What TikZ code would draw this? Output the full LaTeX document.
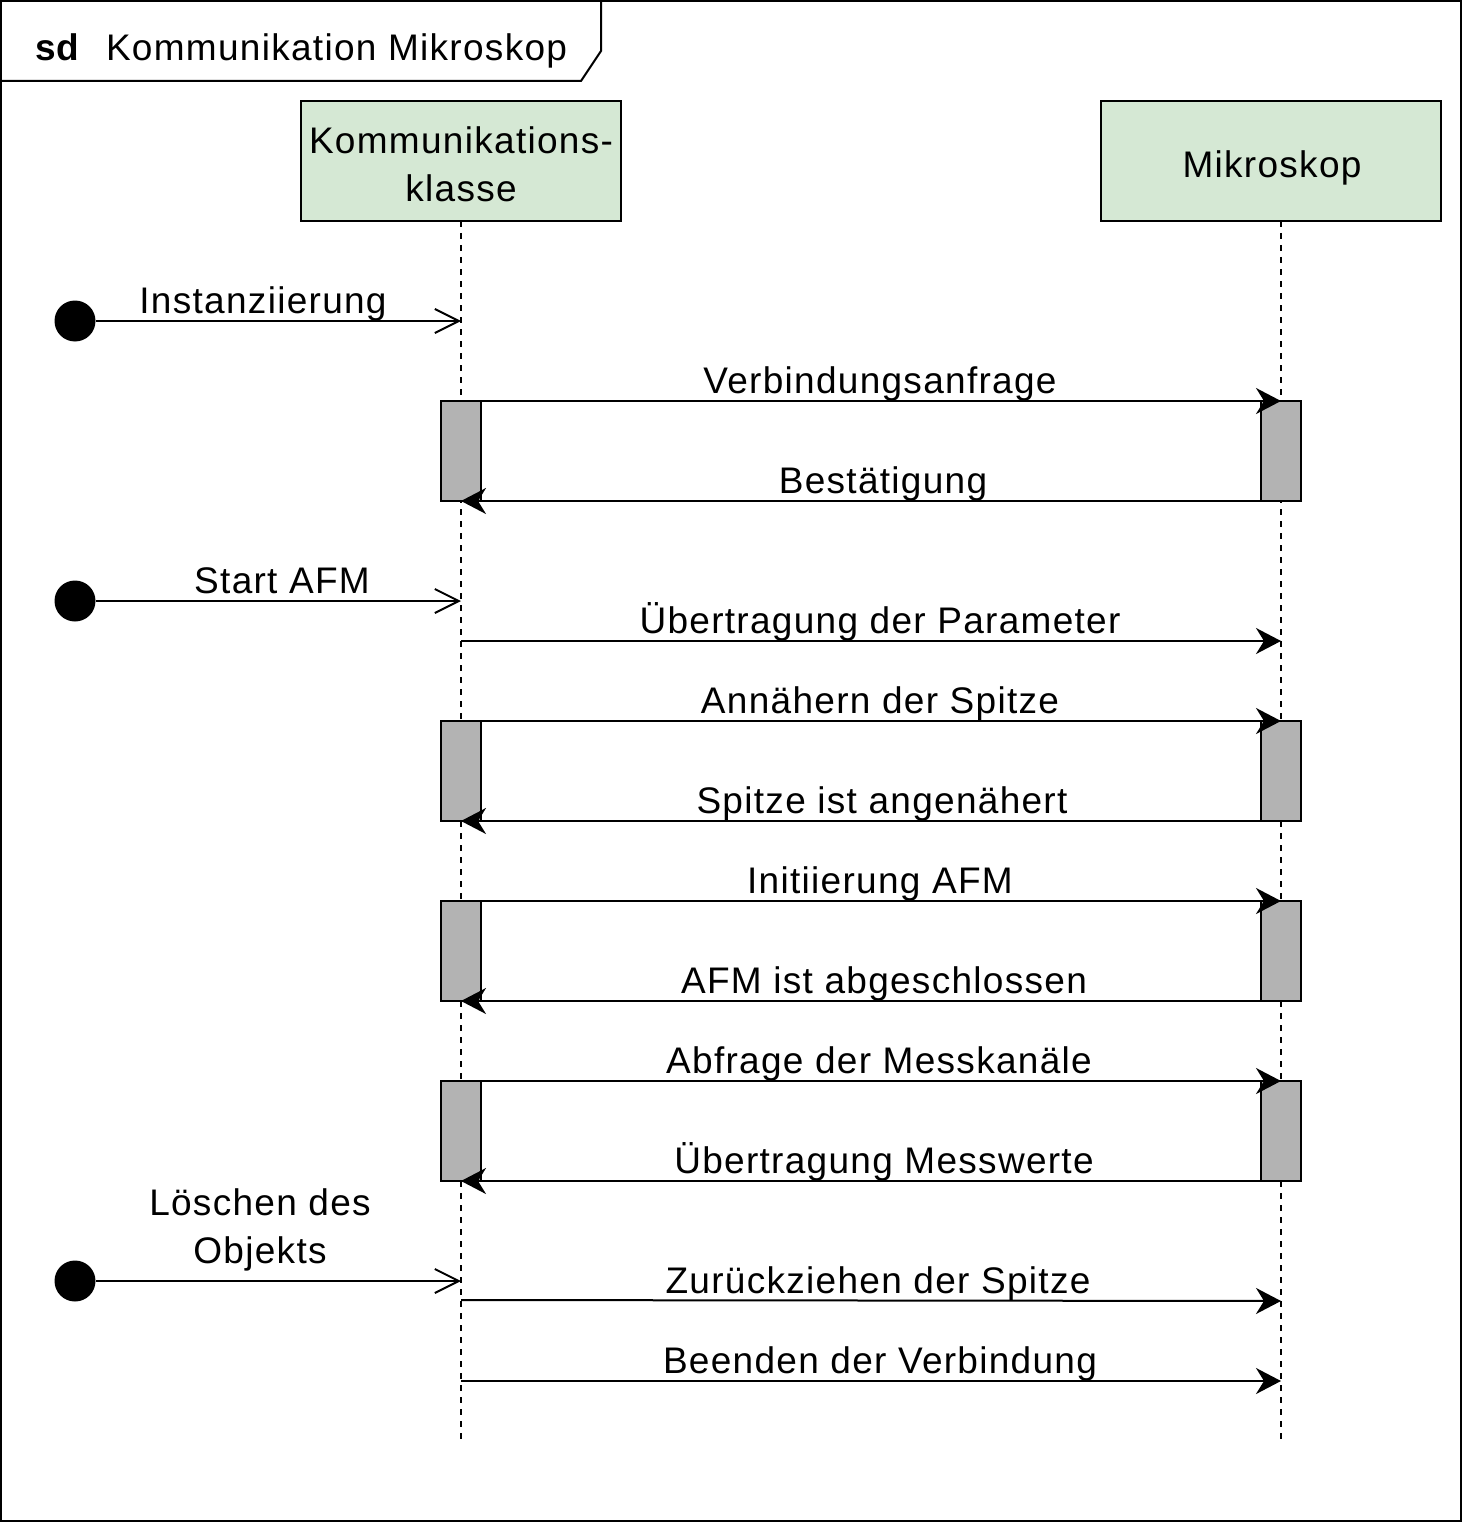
\documentclass[tikz,border=0pt]{standalone}
\usepackage{fontspec}
\setmainfont[LetterSpace=3.5]{Liberation Sans}
\usetikzlibrary{arrows.meta}
\definecolor{hdrgreen}{HTML}{D5E8D4}
\definecolor{actgray}{HTML}{B3B3B3}
\begin{document}
\begin{tikzpicture}[x=1pt,y=-1pt,
  font=\fontsize{37}{48}\selectfont,
  every node/.style={inner sep=0pt, outer sep=0pt},
  ln/.style={line width=2pt, line cap=butt},
  hdrbox/.style={draw, line width=2pt, fill=hdrgreen, minimum width=320pt, minimum height=120pt},
  hdrbox2/.style={hdrbox, minimum width=340pt},
  actbox/.style={draw, line width=2pt, fill=actgray, minimum width=40pt, minimum height=100pt},
  lifeline/.style={line width=2pt, dash pattern=on 6pt off 6pt},
  msg/.style={ln, -{Stealth[length=25pt, width=26pt, inset=8pt]}},
  found/.style={ln, -{Straight Barb[length=24pt, width=24pt, line width=2pt]}},
  startdot/.style={circle, fill=black, minimum size=41pt},
  lbl/.style={anchor=base}
]
\useasboundingbox (0,0) rectangle (1462,1522);
% frame
\draw[ln] (1,1) rectangle (1461,1521);
\draw[ln] (1,1) -- (601,1) -- (601,51) -- (581,81) -- (1,81);
\node[anchor=base west] (sd) at (35,61) {\textbf{sd}};
\node[anchor=base west] (ttl) at (106,61) {Kommunikation Mikroskop};

% lifeline headers
\node[hdrbox] (kk) at (461,161) {};
\node[lbl] (kkt1) at (461,154) {Kommunikations-};
\node[lbl] (kkt2) at (461,202) {klasse};
\node[hdrbox2] (mk) at (1271,161) {};
\node[lbl] (mkt) at (1272,178) {Mikroskop};

\coordinate (kkend) at (461,1441);
\coordinate (mktop) at (1281,221);
\coordinate (mkend) at (1281,1441);
\draw[lifeline] (kk.south) -- (kkend);
\draw[lifeline] (mktop) -- (mkend);

% activation boxes
\node[actbox] (a1l) at (461,451) {};
\node[actbox] (a1r) at (1281,451) {};
\node[actbox] (a2l) at (461,771) {};
\node[actbox] (a2r) at (1281,771) {};
\node[actbox] (a3l) at (461,951) {};
\node[actbox] (a3r) at (1281,951) {};
\node[actbox] (a4l) at (461,1131) {};
\node[actbox] (a4r) at (1281,1131) {};

% found messages
\node[startdot] (s1) at (75,321) {};
\node[startdot] (s2) at (75,601) {};
\node[startdot] (s3) at (75,1281) {};
\coordinate (f1) at (461,321);
\coordinate (f2) at (461,601);
\coordinate (f3) at (461,1281);
\draw[found] (s1) -- (f1);
\draw[found] (s2) -- (f2);
\draw[found] (s3) -- (f3);
\node[lbl] (l1) at (263,313) {Instanziierung};
\node[lbl] (l2) at (282,593) {Start AFM};
\node[lbl] (l3a) at (260,1215) {Löschen des};
\node[lbl] (l3b) at (260,1263) {Objekts};

% messages
\draw[msg] (a1l.north east) -- (a1r.north);
\node[lbl] (m1) at (880,393) {Verbindungsanfrage};
\draw[msg] (a1r.south west) -- (a1l.south);
\node[lbl] (m2) at (883,493) {Bestätigung};

\coordinate (p1) at (461,641);
\coordinate (p2) at (1281,641);
\draw[msg] (p1) -- (p2);
\node[lbl] (m3) at (880,633) {Übertragung der Parameter};

\draw[msg] (a2l.north east) -- (a2r.north);
\node[lbl] (m4) at (880,713) {Annähern der Spitze};
\draw[msg] (a2r.south west) -- (a2l.south);
\node[lbl] (m5) at (882,813) {Spitze ist angenähert};

\draw[msg] (a3l.north east) -- (a3r.north);
\node[lbl] (m6) at (880,893) {Initiierung AFM};
\draw[msg] (a3r.south west) -- (a3l.south);
\node[lbl] (m7) at (884,993) {AFM ist abgeschlossen};

\draw[msg] (a4l.north east) -- (a4r.north);
\node[lbl] (m8) at (879,1073) {Abfrage der Messkanäle};
\draw[msg] (a4r.south west) -- (a4l.south);
\node[lbl] (m9) at (884,1173) {Übertragung Messwerte};

\coordinate (z1) at (461,1300);
\coordinate (z2) at (1281,1301);
\draw[msg] (z1) -- (z2);
\node[lbl] (m10) at (878,1293) {Zurückziehen der Spitze};

\coordinate (b1) at (461,1381);
\coordinate (b2) at (1281,1381);
\draw[msg] (b1) -- (b2);
\node[lbl] (m11) at (880,1373) {Beenden der Verbindung};
\end{tikzpicture}
\end{document}
